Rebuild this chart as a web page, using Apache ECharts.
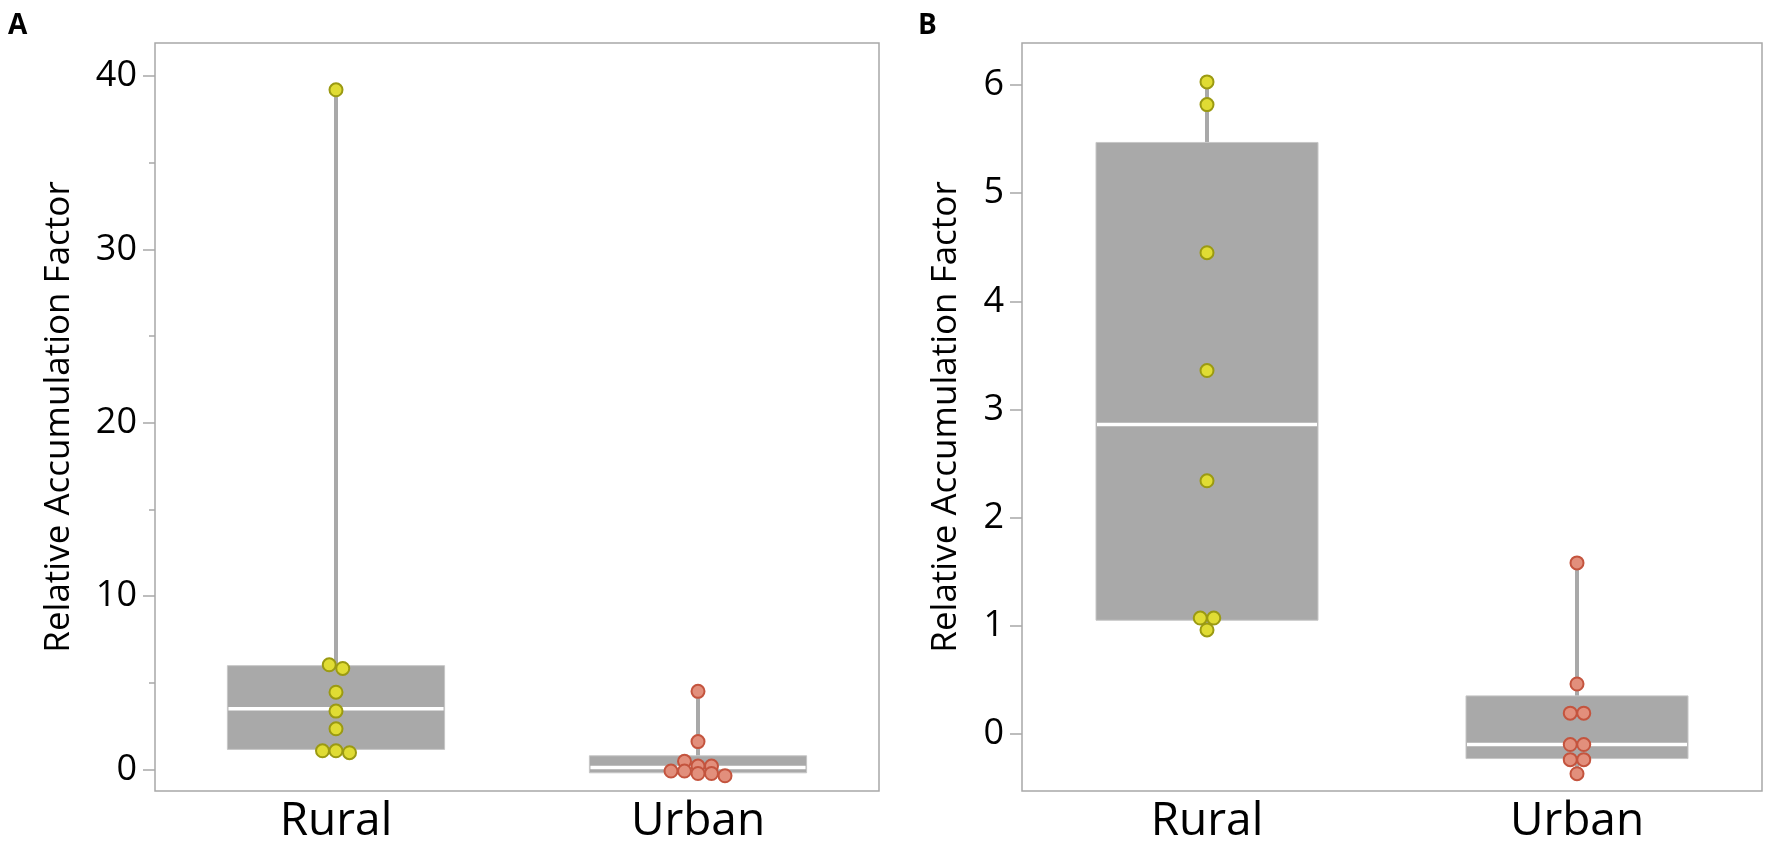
<!DOCTYPE html>
<html>
<head>
<meta charset="utf-8">
<script src="https://cdn.jsdelivr.net/npm/echarts@6/dist/echarts.min.js"></script>
<style>
  html, body { margin: 0; padding: 0; background: #fff; }
  #chart { width: 1775px; height: 854px; }
</style>
</head>
<body>
<div id="chart"></div>
<script>
// categories and tick values
const CATEGORIES = ['Rural', 'Urban'];
const TICKS_A = [0, 10, 20, 30, 40];
const MINOR_TICKS_A = [5, 15, 25, 35];
const TICKS_B = [0, 1, 2, 3, 4, 5, 6];

// individual points
const A_RURAL_POINTS = [39.2, 6.03, 5.82, 4.45, 3.36, 2.34, 1.07, 1.07, 0.96];
const A_URBAN_POINTS = [4.5, 1.6, 0.46, 0.19, 0.19, -0.1, -0.1, -0.24, -0.24, -0.37];
const B_RURAL_POINTS = [6.03, 5.82, 4.45, 3.36, 2.34, 1.07, 1.07, 0.96];
const B_URBAN_POINTS = [1.58, 0.46, 0.19, 0.19, -0.1, -0.1, -0.24, -0.24, -0.37];

// box summaries: [min, q1, median, q3, max]
const A_RURAL_BOX = [0.96, 1.15, 3.5, 5.98, 39.2];
const A_URBAN_BOX = [-0.37, -0.2, 0.1, 0.78, 4.5];
const B_RURAL_BOX = [0.96, 1.05, 2.86, 5.47, 6.03];
const B_URBAN_BOX = [-0.37, -0.23, -0.1, 0.35, 1.58];

const FONT = 'Open Sans';
const GRAY = '#a9a9a9';
const FRAME = '#a8a8a8';
const RURAL_FILL = '#e0dc34';
const RURAL_STROKE = '#9b9a12';
const URBAN_FILL = '#e28f7c';
const URBAN_STROKE = '#c4543e';
const DOT = 15;

const chart = echarts.init(document.getElementById('chart'));

// spread points that sit at (almost) the same height into a centred row
function swarmOffsets(ys, d) {
  const order = ys.map((y, i) => i).sort((a, b) => ys[a] - ys[b]);
  const offsets = new Array(ys.length).fill(0);
  let row = [];
  const flush = () => {
    row.forEach((idx, k) => {
      offsets[idx] = (k - (row.length - 1) / 2) * d * 0.9;
    });
    row = [];
  };
  order.forEach(idx => {
    if (row.length && ys[idx] - ys[row[0]] >= d * 0.5) flush();
    row.push(idx);
  });
  flush();
  return offsets;
}

const boxSeries = (gridIdx, yIdx, boxes) => ({
  type: 'custom',
  xAxisIndex: gridIdx,
  yAxisIndex: yIdx,
  z: 2,
  silent: true,
  data: boxes.map((b, i) => [i].concat(b)),
  renderItem: (params, api) => {
    const cat = api.value(0);
    const lo = api.coord([cat, api.value(1)]);
    const q1 = api.coord([cat, api.value(2)]);
    const med = api.coord([cat, api.value(3)]);
    const q3 = api.coord([cat, api.value(4)]);
    const hi = api.coord([cat, api.value(5)]);
    const w = api.size([1, 0])[0] * 0.6;
    const x = q1[0];
    return {
      type: 'group',
      children: [
        { type: 'line', shape: { x1: x, y1: q3[1], x2: x, y2: hi[1] }, style: { stroke: GRAY, lineWidth: 4 } },
        { type: 'line', shape: { x1: x, y1: q1[1], x2: x, y2: lo[1] }, style: { stroke: GRAY, lineWidth: 4 } },
        { type: 'rect', shape: { x: x - w / 2, y: q3[1], width: w, height: q1[1] - q3[1] }, style: { fill: GRAY, stroke: '#c6c6c6', lineWidth: 1 } },
        { type: 'line', shape: { x1: x - w / 2 + 1, y1: med[1], x2: x + w / 2 - 1, y2: med[1] }, style: { stroke: '#ffffff', lineWidth: 3.5 } }
      ]
    };
  }
});

const pointSeries = (gridIdx, yIdx, cat, values, fill, stroke) => ({
  type: 'custom',
  xAxisIndex: gridIdx,
  yAxisIndex: yIdx,
  z: 5,
  silent: true,
  data: values.map(v => [cat, v]),
  renderItem: (params, api) => {
    const ys = values.map(v => api.coord([cat, v])[1]);
    const offs = swarmOffsets(ys, DOT);
    const p = api.coord([cat, api.value(1)]);
    return {
      type: 'circle',
      shape: { cx: p[0] + offs[params.dataIndex], cy: p[1], r: DOT / 2 - 1 },
      style: { fill: fill, stroke: stroke, lineWidth: 2 }
    };
  }
});

const catAxis = gridIdx => ({
  type: 'category',
  gridIndex: gridIdx,
  data: CATEGORIES,
  boundaryGap: true,
  axisLine: { show: false },
  axisTick: { show: false },
  axisLabel: { fontFamily: FONT, fontSize: 46, color: '#000', margin: 8 },
  splitLine: { show: false }
});

const valAxis = (gridIdx, min, max, ticks, nameGap) => ({
  type: 'value',
  gridIndex: gridIdx,
  position: 'left',
  min: min,
  max: max,
  name: 'Relative Accumulation Factor',
  nameLocation: 'middle',
  nameRotate: 90,
  nameGap: nameGap,
  nameTextStyle: { fontFamily: FONT, fontSize: 35, color: '#000' },
  axisLine: { show: false },
  axisTick: { show: true, length: 12, customValues: ticks, lineStyle: { color: FRAME, width: 1.5 } },
  axisLabel: { customValues: ticks, fontFamily: FONT, fontSize: 36, color: '#000', margin: 18 },
  splitLine: { show: false }
});

const option = {
  animation: false,
  backgroundColor: '#fff',
  graphic: [
    { type: 'text', left: 8, top: 12, style: { text: 'A', font: 'bold 28px Open Sans', fill: '#000' } },
    { type: 'text', left: 918, top: 12, style: { text: 'B', font: 'bold 28px Open Sans', fill: '#000' } }
  ],
  grid: [
    { left: 155, right: 896, top: 43, bottom: 63, show: true, borderColor: FRAME, borderWidth: 1.5, backgroundColor: 'transparent', outerBoundsMode: 'none' },
    { left: 1022, right: 13, top: 43, bottom: 63, show: true, borderColor: FRAME, borderWidth: 1.5, backgroundColor: 'transparent', outerBoundsMode: 'none' }
  ],
  xAxis: [catAxis(0), catAxis(1)],
  yAxis: [
    valAxis(0, -1.25, 41.9, TICKS_A, 78),
    valAxis(1, -0.53, 6.39, TICKS_B, 58),
    {
      // minor ticks of panel A
      type: 'value',
      gridIndex: 0,
      position: 'left',
      min: -1.25,
      max: 41.9,
      axisLine: { show: false },
      axisTick: { show: true, length: 6, customValues: MINOR_TICKS_A, lineStyle: { color: FRAME, width: 1.5 } },
      axisLabel: { show: false },
      splitLine: { show: false }
    }
  ],
  series: [
    boxSeries(0, 0, [A_RURAL_BOX, A_URBAN_BOX]),
    boxSeries(1, 1, [B_RURAL_BOX, B_URBAN_BOX]),
    pointSeries(0, 0, 0, A_RURAL_POINTS, RURAL_FILL, RURAL_STROKE),
    pointSeries(0, 0, 1, A_URBAN_POINTS, URBAN_FILL, URBAN_STROKE),
    pointSeries(1, 1, 0, B_RURAL_POINTS, RURAL_FILL, RURAL_STROKE),
    pointSeries(1, 1, 1, B_URBAN_POINTS, URBAN_FILL, URBAN_STROKE)
  ]
};

chart.setOption(option);
</script>
</body>
</html>
